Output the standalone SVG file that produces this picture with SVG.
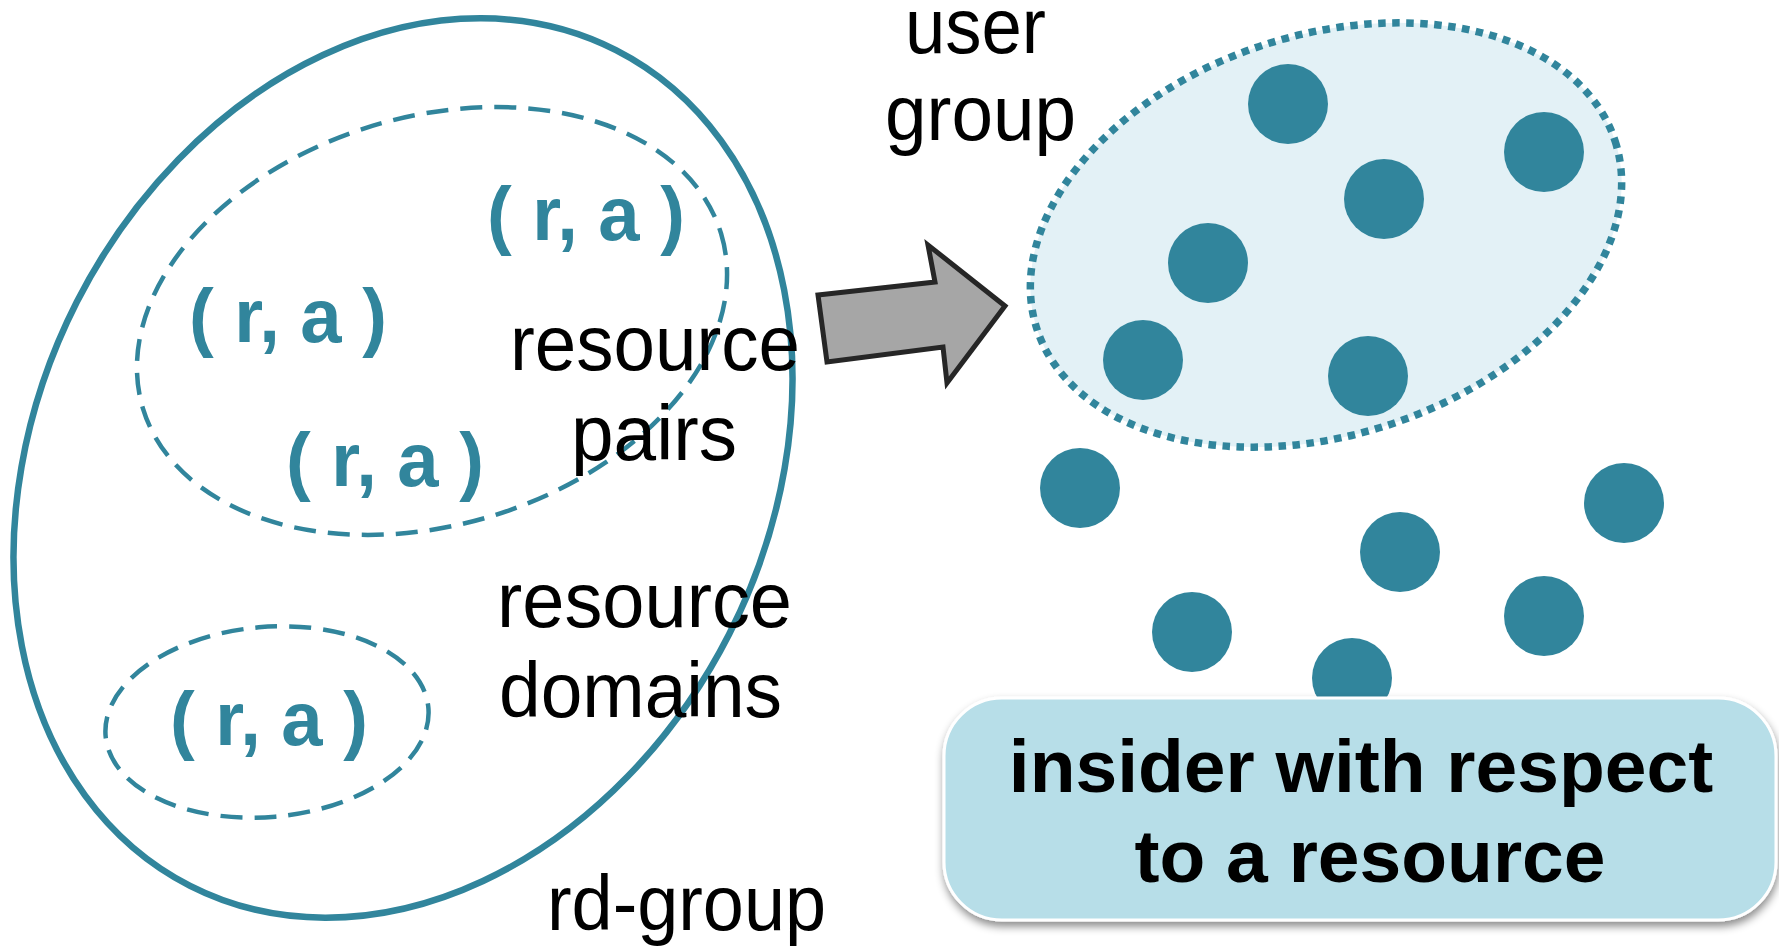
<svg xmlns="http://www.w3.org/2000/svg" width="1779" height="946" viewBox="0 0 1779 946">
  <defs>
    <style>
      .teal-solid { fill: none; stroke: #31859C; stroke-width: 6.5; }
      .teal-dash { fill: none; stroke: #31859C; stroke-width: 4.5; stroke-dasharray: 22 12; }
      .pair { font-family: "Liberation Sans", Arial, sans-serif; font-weight: bold; font-size: 76px; fill: #31859C; }
      .lbl { font-family: "Liberation Sans", Arial, sans-serif; font-size: 77px; fill: #000; }
      .box-text { font-family: "Liberation Sans", Arial, sans-serif; font-weight: bold; font-size: 75px; fill: #000; text-anchor: middle; }
      .dot { fill: #31859C; }
    </style>
    <filter id="shadow" x="-5%" y="-10%" width="110%" height="130%">
      <feDropShadow dx="1" dy="5" stdDeviation="4" flood-color="#000" flood-opacity="0.45"/>
    </filter>
  </defs>

  <rect width="1779" height="946" fill="#FFFFFF"/>

  <g id="rd-group">
    <ellipse class="teal-solid" cx="403" cy="468" rx="366" ry="469" transform="rotate(27 403 468)"/>
    <text class="lbl" x="547" y="930" textLength="279" lengthAdjust="spacingAndGlyphs">rd-group</text>
  </g>

  <g id="resource-pairs">
    <ellipse class="teal-dash" cx="432" cy="321" rx="302" ry="204" transform="rotate(-16.8 432 321)"/>
    <text class="pair" x="487" y="240" textLength="198" lengthAdjust="spacingAndGlyphs">( r, a )</text>
    <text class="pair" x="189" y="342" textLength="198" lengthAdjust="spacingAndGlyphs">( r, a )</text>
    <text class="pair" x="286" y="486" textLength="198" lengthAdjust="spacingAndGlyphs">( r, a )</text>
    <text class="lbl" x="510" y="370" textLength="290" lengthAdjust="spacingAndGlyphs">resource</text>
    <text class="lbl" x="571" y="460" textLength="166" lengthAdjust="spacingAndGlyphs">pairs</text>
  </g>

  <g id="resource-domains">
    <ellipse class="teal-dash" cx="267" cy="722" rx="162" ry="95" transform="rotate(-5 267 722)"/>
    <text class="pair" x="170" y="745" textLength="198" lengthAdjust="spacingAndGlyphs">( r, a )</text>
    <text class="lbl" x="497" y="627" textLength="295" lengthAdjust="spacingAndGlyphs">resource</text>
    <text class="lbl" x="499" y="717" textLength="283" lengthAdjust="spacingAndGlyphs">domains</text>
  </g>

  <g id="connectors">
    <polygon points="818,295 935,282 928,245 1005,306 947,383 943,347 827,362" fill="#A6A6A6" stroke="#262626" stroke-width="5" stroke-linejoin="miter"/>
  </g>

  <g id="user-group">
    <ellipse cx="1326" cy="235" rx="304" ry="200" transform="rotate(-18 1326 235)" fill="#E3F1F6" stroke="#31859C" stroke-width="7.5" stroke-dasharray="7.5 6.5"/>
    <text class="lbl" x="905" y="53" textLength="141" lengthAdjust="spacingAndGlyphs">user</text>
    <text class="lbl" x="885" y="140" textLength="191" lengthAdjust="spacingAndGlyphs">group</text>
    <circle class="dot" cx="1288" cy="104" r="40"/>
    <circle class="dot" cx="1544" cy="152" r="40"/>
    <circle class="dot" cx="1384" cy="199" r="40"/>
    <circle class="dot" cx="1208" cy="263" r="40"/>
    <circle class="dot" cx="1143" cy="360" r="40"/>
    <circle class="dot" cx="1368" cy="376" r="40"/>
  </g>

  <g id="users">
    <circle class="dot" cx="1080" cy="488" r="40"/>
    <circle class="dot" cx="1624" cy="503" r="40"/>
    <circle class="dot" cx="1400" cy="552" r="40"/>
    <circle class="dot" cx="1192" cy="632" r="40"/>
    <circle class="dot" cx="1544" cy="616" r="40"/>
    <circle class="dot" cx="1352" cy="678" r="40"/>
  </g>

  <g id="insider-box">
    <rect x="944" y="698" width="832" height="222" rx="58" ry="58" fill="#B7DEE8" stroke="#FFFFFF" stroke-width="3" filter="url(#shadow)"/>
    <text class="box-text" x="1361" y="792">insider with respect</text>
    <text class="box-text" x="1370" y="882">to a resource</text>
  </g>
</svg>
